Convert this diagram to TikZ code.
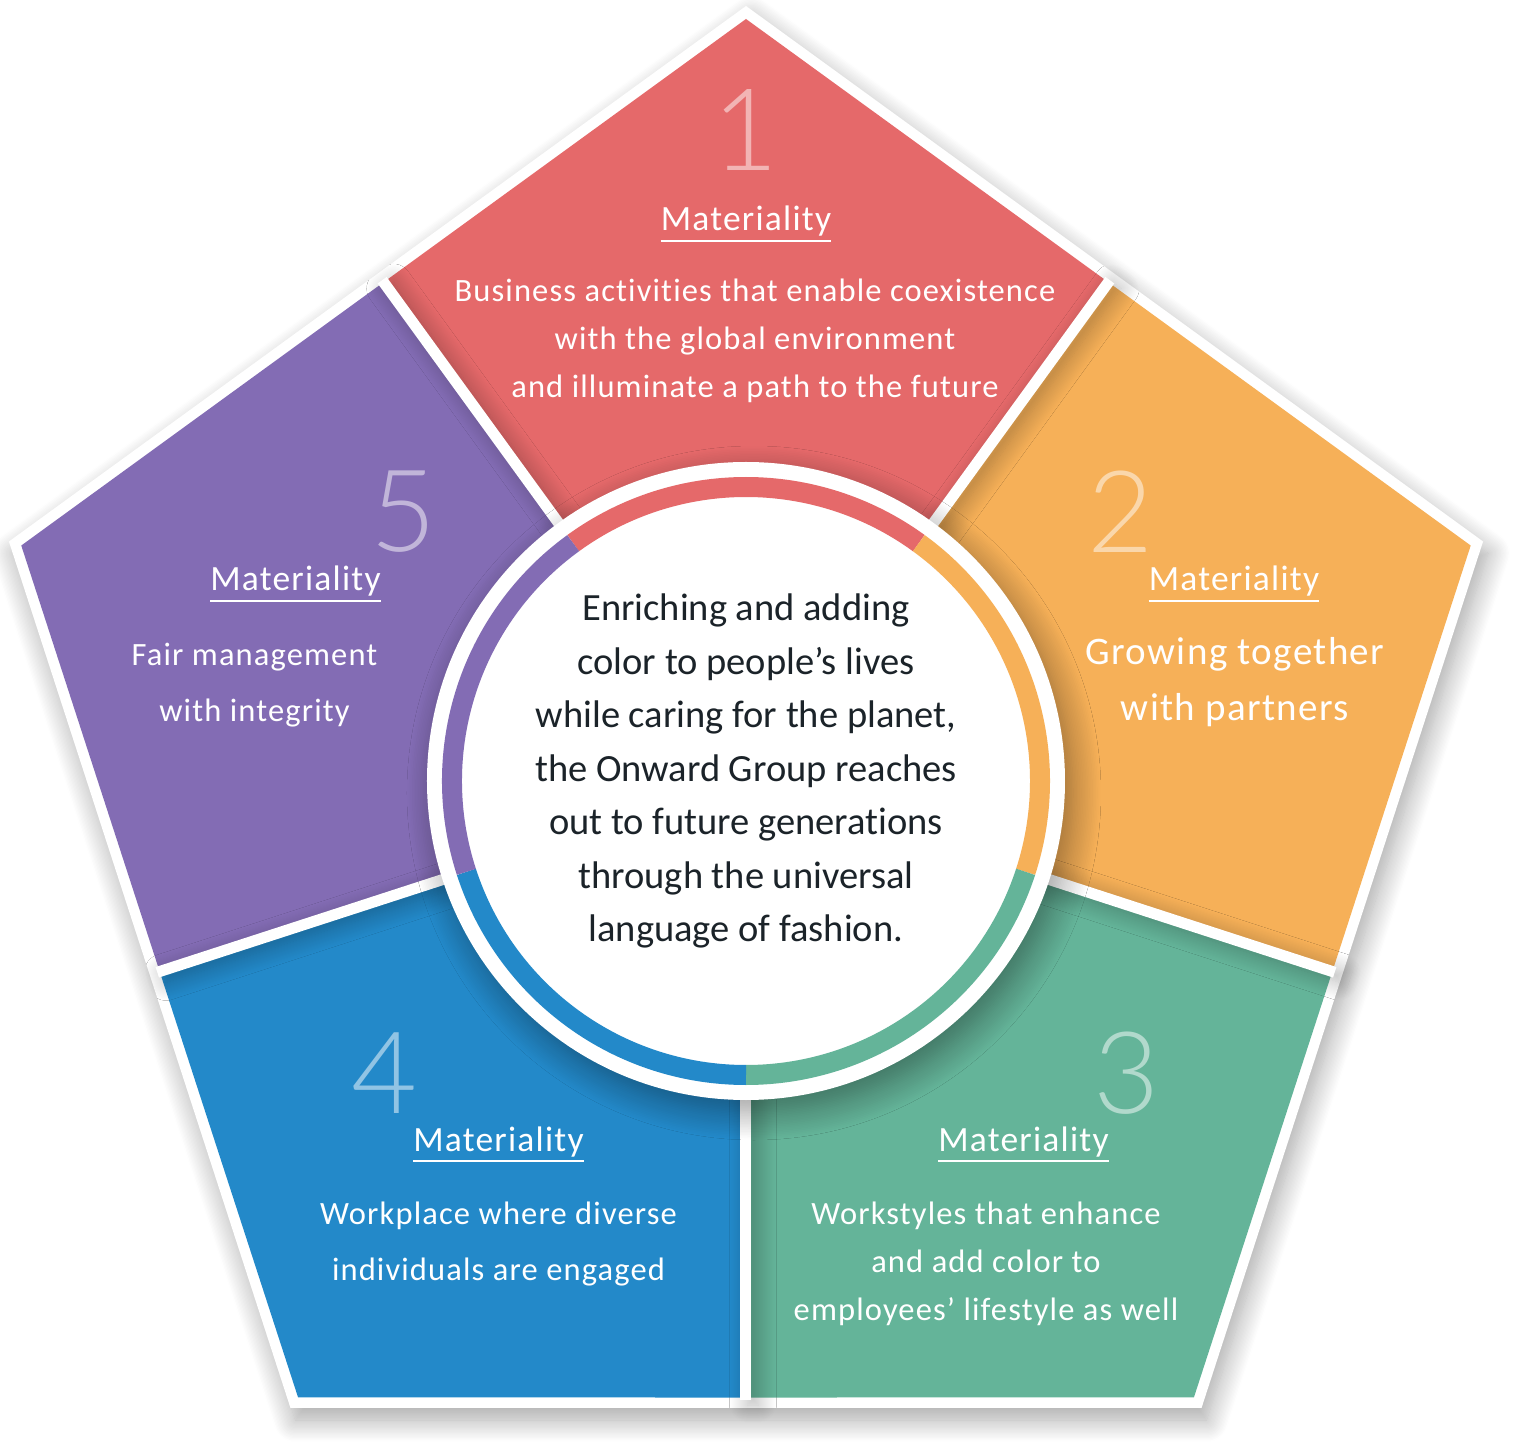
\documentclass[tikz,border=0pt]{standalone}
\usepackage{fontspec}
\usepackage{tikz}
\usetikzlibrary{shadows.blur}
\setmainfont{Carlito}[Ligatures=NoCommon]
\newfontfamily\wfont{Carlito}[LetterSpace=3.5,Ligatures=NoCommon]
\newfontfamily\numfont{Lato Light}
\definecolor{MatRed}    {HTML}{E5696A}
\definecolor{MatOrange} {HTML}{F6B058}
\definecolor{MatGreen}  {HTML}{64B499}
\definecolor{MatBlue}   {HTML}{2389C9}
\definecolor{MatPurple} {HTML}{836CB4}
\definecolor{CoreText}  {HTML}{1B2329}
\tikzset{
    digit/.style={font=\numfont\fontsize{114}{114}\selectfont,text=white,text opacity=0.5,inner sep=0pt},
    heading/.style={font=\wfont\fontsize{35.5}{40}\selectfont,text=white,inner sep=0pt,anchor=base},
    body/.style={font=\wfont\fontsize{32.5}{48}\selectfont,text=white,align=center,inner sep=0pt},
    ul/.style={white,line width=2.5pt},
    softshadow/.style n args={4}{blur shadow={shadow xshift=#1,shadow yshift=#2,shadow blur radius=#3,shadow opacity=#4,shadow blur steps=18}}
}

\begin{document}
\begin{tikzpicture}[x=1pt,y=1pt]
    \useasboundingbox (-746,-662) rectangle (770,781);
    \fill[white,softshadow={5pt}{-12pt}{22pt}{35}] (90:775) -- (18:775) -- (-54:775) -- (-126:775) -- (162:775) -- cycle;
    \foreach \a/\c in {90/MatRed,18/MatOrange,-54/MatGreen,-126/MatBlue,162/MatPurple}
        \fill[\c] (0,0) -- (\a+36:616.5) -- (\a:762) -- (\a-36:616.5) -- cycle;
    \foreach \d in {126,54,-18,-90,198}
        \fill[white,softshadow={7pt}{-5pt}{18pt}{28}]
            ([shift={(\d+90:5.5)}]0,0) -- ([shift={(\d+90:5.5)}]\d:619) -- ([shift={(\d-90:5.5)}]\d:619) -- ([shift={(\d-90:5.5)}]0,0) -- cycle;
    \fill[white,softshadow={8pt}{-12pt}{28pt}{40}] (0,0) circle[radius=319];
    \foreach \a/\c in {90/MatRed,18/MatOrange,-54/MatGreen,-126/MatBlue,162/MatPurple}
        \draw[\c,line width=20pt] (\a-36:294) arc[start angle=\a-36,end angle=\a+36,radius=294];

    \node[digit] (n1) at (0,651) {1};
    \node[digit] (n2) at (375,269) {2};
    \node[digit] (n3) at (381,-292) {3};
    \node[digit] (n4) at (-361,-292) {4};
    \node[digit] (n5) at (-342,269) {5};

    \node[heading] (hd1) at (0,550) {Materiality};
    \node[heading] (hd2) at (488,190) {Materiality};
    \node[heading] (hd3) at (277.5,-370) {Materiality};
    \node[heading] (hd4) at (-247.5,-370) {Materiality};
    \node[heading] (hd5) at (-450.5,190) {Materiality};
    \foreach \h in {hd1,hd2,hd3,hd4,hd5}
        \draw[ul] ([yshift=-10pt]\h.base west) -- ([yshift=-10pt]\h.base east);

    \node[body] (tx1) at (9,440) {Business activities that enable coexistence\\with the global environment\\and illuminate a path to the future};
    \node[body,font=\wfont\fontsize{39}{56}\selectfont] (tx2) at (489,99) {Growing together\\with partners};
    \node[body] (tx3) at (240,-483) {Workstyles that enhance\\and add color to\\employees’ lifestyle as well};
    \node[body,font=\wfont\fontsize{32.5}{56}\selectfont] (tx4) at (-247.5,-463) {Workplace where diverse\\individuals are engaged};
    \node[body,font=\wfont\fontsize{32.5}{56}\selectfont] (tx5) at (-491.5,96) {Fair management\\with integrity};

    \node[align=center,text=CoreText,font=\fontsize{38.5}{53.5}\selectfont,inner sep=0pt] (core) at (0,10)
        {Enriching and adding\\color to people’s lives\\while caring for the planet,\\the Onward Group reaches\\out to future generations\\through the universal\\language of fashion.};
\end{tikzpicture}
\end{document}
